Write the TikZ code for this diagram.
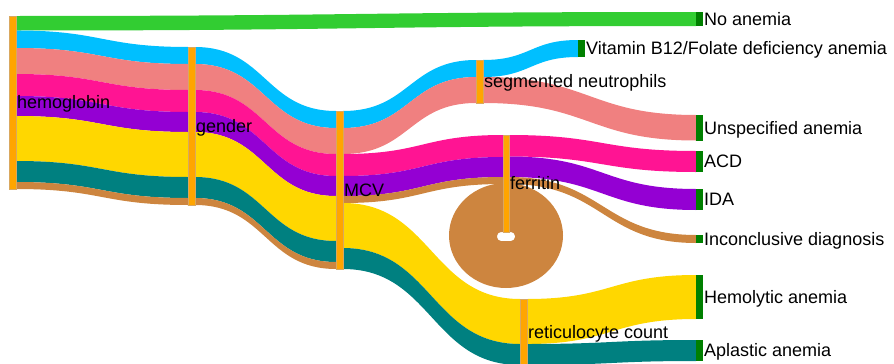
\documentclass[tikz,border=0pt]{standalone}
\usepackage{fontspec}
\setmainfont{Liberation Sans}
\definecolor{fgreen}{HTML}{32CD32}
\definecolor{fcyan}{HTML}{00BFFF}
\definecolor{fsalmon}{HTML}{F08080}
\definecolor{fpink}{HTML}{FF1493}
\definecolor{fpurple}{HTML}{9400D3}
\definecolor{fgold}{HTML}{FFD700}
\definecolor{fteal}{HTML}{008080}
\definecolor{fbrown}{HTML}{CD853F}
\definecolor{nodeorange}{HTML}{FFA500}
\definecolor{nodeedge}{HTML}{D9A860}
\definecolor{endgreen}{HTML}{008000}
\newcommand{\flowband}[7]{%
  \fill[#7] (#1,#2) .. controls ({(#1+#4)/2},#2) and ({(#1+#4)/2},#5) .. (#4,#5)
    -- (#4,#6) .. controls ({(#1+#4)/2},#6) and ({(#1+#4)/2},#3) .. (#1,#3) -- cycle;}
\begin{document}
\begin{tikzpicture}[x=1pt,y=-1pt,
  bar/.style={draw=nodeedge,line width=0.5pt,fill=nodeorange,inner sep=0pt,outer sep=0pt,minimum width=7pt},
  endbar/.style={fill=endgreen,inner sep=0pt,outer sep=0pt,minimum width=7pt},
  lbl/.style={anchor=west,inner sep=0pt,font=\fontsize{18}{21}\selectfont,text height=12.9pt,text depth=0pt}]
\useasboundingbox (0,0) rectangle (894,364);
% self loop of ferritin
\fill[fbrown,even odd rule] (506,235.5) ellipse [x radius=57pt, y radius=52.5pt]
  [rounded corners=4pt] (497,232) rectangle (515,241);
% hemoglobin -> No anemia / gender
\flowband{16}{16}{30.5}{696}{12}{26}{fgreen}
\flowband{16}{30.5}{48}{188}{47}{64}{fcyan}
\flowband{16}{48}{74}{188}{64}{90}{fsalmon}
\flowband{16}{74}{96}{188}{90}{112}{fpink}
\flowband{16}{96}{116}{188}{112}{132}{fpurple}
\flowband{16}{116}{161}{188}{132}{177}{fgold}
\flowband{16}{161}{182}{188}{177}{198}{fteal}
\flowband{16}{182}{189}{188}{198}{205}{fbrown}
% gender -> MCV
\flowband{195}{47}{64}{336}{111}{128}{fcyan}
\flowband{195}{64}{90}{336}{128}{154}{fsalmon}
\flowband{195}{90}{112}{336}{154}{176}{fpink}
\flowband{195}{112}{132}{336}{176}{196}{fpurple}
\flowband{195}{132}{177}{336}{196}{241}{fgold}
\flowband{195}{177}{198}{336}{241}{262}{fteal}
\flowband{195}{198}{205}{336}{262}{269}{fbrown}
% MCV -> segmented neutrophils / ferritin / reticulocyte count
\flowband{343}{111}{128}{476}{60}{77}{fcyan}
\flowband{343}{128}{154}{476}{77}{103}{fsalmon}
\flowband{343}{154}{176}{503}{135}{157}{fpink}
\flowband{343}{176}{196}{503}{157}{177}{fpurple}
\flowband{343}{196}{203}{503}{177}{184}{fbrown}
\flowband{343}{203}{248}{520}{299}{344}{fgold}
\flowband{343}{248}{269}{520}{344}{365}{fteal}
% segmented neutrophils -> outcomes
\flowband{483}{60}{77}{578}{40}{57}{fcyan}
\flowband{483}{77}{103}{696}{115}{140.5}{fsalmon}
% ferritin -> outcomes
\flowband{509}{135}{156.5}{696}{151}{172}{fpink}
\flowband{509}{156.5}{177}{696}{189}{210}{fpurple}
\flowband{509}{177}{184}{696}{235}{243}{fbrown}
% reticulocyte count -> outcomes
\flowband{527}{299}{344}{696}{275}{319}{fgold}
\flowband{527}{344}{365}{696}{340}{361}{fteal}
% nodes
\node[bar,minimum height=173pt] (hemo) at (12.5,102.5) {};
\node[bar,minimum height=158pt] (gender) at (191.5,126) {};
\node[bar,minimum height=158pt] (mcv) at (339.5,190) {};
\node[bar,minimum height=43pt] (segn) at (479.5,81.5) {};
\node[bar,minimum width=6pt,minimum height=97pt] (ferr) at (506,183.5) {};
\node[bar,minimum height=66pt] (retic) at (523.5,332) {};
\node[endbar,minimum height=14pt] (noan) at (699.5,19) {};
\node[endbar,minimum height=17pt] (vit) at (581.5,48.5) {};
\node[endbar,minimum height=25.5pt] (unsp) at (699.5,127.75) {};
\node[endbar,minimum height=21pt] (acd) at (699.5,161.5) {};
\node[endbar,minimum height=21pt] (ida) at (699.5,199.5) {};
\node[endbar,minimum height=8pt] (inc) at (699.5,239) {};
\node[endbar,minimum height=44pt] (hemol) at (699.5,297) {};
\node[endbar,minimum height=21pt] (apl) at (699.5,350.5) {};
% labels
\node[lbl] (lhemo) at ([xshift=1pt]hemo.east) {hemoglobin};
\node[lbl] (lgender) at ([xshift=1pt]gender.east) {gender};
\node[lbl] (lmcv) at ([xshift=1pt]mcv.east) {MCV};
\node[lbl] (lsegn) at ([xshift=1pt]segn.east) {segmented neutrophils};
\node[lbl] (lferr) at ([xshift=1pt]ferr.east) {ferritin};
\node[lbl] (lretic) at ([xshift=1pt]retic.east) {reticulocyte count};
\node[lbl] (lnoan) at ([xshift=1pt]noan.east) {No anemia};
\node[lbl] (lvit) at ([xshift=1pt]vit.east) {Vitamin B12/Folate deficiency anemia};
\node[lbl] (lunsp) at ([xshift=1pt]unsp.east) {Unspecified anemia};
\node[lbl] (lacd) at ([xshift=1pt]acd.east) {ACD};
\node[lbl] (lida) at ([xshift=1pt]ida.east) {IDA};
\node[lbl] (linc) at ([xshift=1pt]inc.east) {Inconclusive diagnosis};
\node[lbl] (lhemol) at ([xshift=1pt]hemol.east) {Hemolytic anemia};
\node[lbl] (lapl) at ([xshift=1pt]apl.east) {Aplastic anemia};
\end{tikzpicture}
\end{document}
